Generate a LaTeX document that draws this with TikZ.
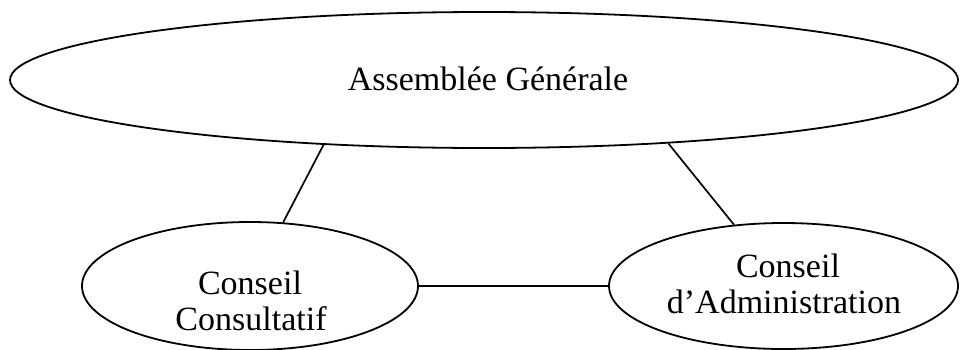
\documentclass[tikz,border=0pt]{standalone}
\usepackage{fontspec}
\setmainfont{Liberation Serif}
\usetikzlibrary{shapes.geometric}
\begin{document}
\begin{tikzpicture}[x=1pt,y=-1pt,
  organ/.style={draw=black, line width=1.8pt, ellipse, inner sep=0pt},
  label/.style={anchor=base, inner sep=0pt, font=\fontsize{34}{36}\selectfont},
  link/.style={draw=black, line width=1.7pt}]
  \useasboundingbox (0,0) rectangle (960,349);

  % the three bodies
  \node[organ, minimum width=948pt, minimum height=136pt] (ag) at (484,80) {};
  \node[organ, minimum width=336pt, minimum height=128pt] (cc) at (250,286) {};
  \node[organ, minimum width=349pt, minimum height=126pt] (ca) at (783.5,286) {};

  % their names
  \node[label] (agt) at (488,90) {Assemblée Générale};
  \node[label] (cct1) at (250,294) {Conseil};
  \node[label] (cct2) at (251,330) {Consultatif};
  \node[label] (cat1) at (788,277) {Conseil};
  \node[label] (cat2) at (784,313) {d’Administration};

  % links between the bodies
  \draw[link] (ag.202.9) -- (cc);
  \draw[link] (ag.341.4) -- (ca);
  \draw[link] (cc.east) -- (ca.west);
\end{tikzpicture}
\end{document}
